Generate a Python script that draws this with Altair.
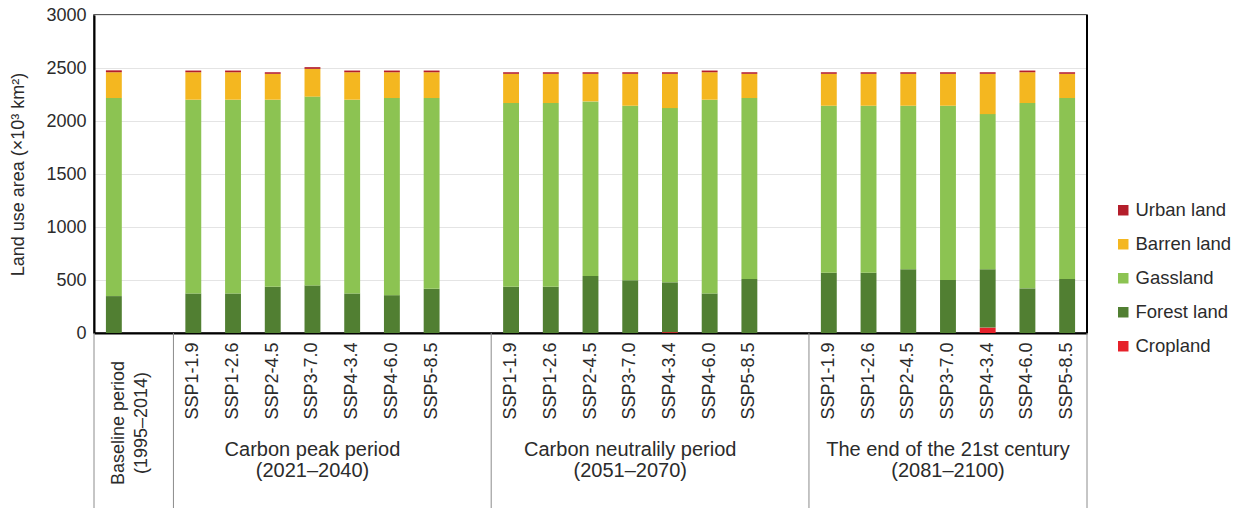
import altair as alt
import pandas as pd

# ---------------- data ----------------
land_types = ["Cropland", "Forest land", "Gassland", "Barren land", "Urban land"]
legend_order = ["Urban land", "Barren land", "Gassland", "Forest land", "Cropland"]
legend_colors = ["#B41E2B", "#F4B720", "#8CC352", "#517F32", "#E6212A"]

scenarios = ["SSP1-1.9", "SSP1-2.6", "SSP2-4.5", "SSP3-7.0", "SSP4-3.4", "SSP4-6.0", "SSP5-8.5"]
baseline_label = "Baseline period\n(1995–2014)"
period_labels = [
    "Carbon peak period\n(2021–2040)",
    "Carbon neutralily period\n(2051–2070)",
    "The end of the 21st century\n(2081–2100)",
]

# values (x10^3 km2): baseline, then 7 scenarios for each of the 3 periods
cropland = [0,
            0, 0, 0, 0, 0, 0, 0,
            0, 0, 0, 0, 8, 0, 0,
            0, 0, 0, 0, 51, 0, 0]
forest = [348,
          373, 373, 436, 449, 373, 357, 417,
          436, 436, 538, 497, 470, 373, 509,
          569, 569, 601, 500, 550, 421, 509]
grass = [1869,
         1828, 1828, 1765, 1781, 1828, 1860, 1800,
         1734, 1734, 1647, 1647, 1644, 1828, 1708,
         1575, 1575, 1543, 1644, 1464, 1749, 1708]
barren = [243,
          259, 259, 244, 262, 259, 243, 243,
          275, 275, 260, 301, 323, 259, 228,
          301, 301, 301, 301, 380, 290, 228]
urban = [18,
         16, 16, 15, 16, 16, 16, 16,
         15, 15, 15, 15, 15, 16, 15,
         15, 15, 15, 15, 15, 16, 15]

# ---------------- build tables ----------------
bar_keys = ["Baseline|"]
slots = ["Baseline|", "gap0|"]
for p in range(len(period_labels)):
    keys = [f"P{p + 1}|{s}" for s in scenarios]
    bar_keys += keys
    slots += keys
    if p < len(period_labels) - 1:
        slots.append(f"gap{p + 1}|")

series = [cropland, forest, grass, barren, urban]
rows = []
for li, (land, vals) in enumerate(zip(land_types, series)):
    for key, v in zip(bar_keys, vals):
        rows.append({"slot": key, "land": land, "value": v, "stack_order": li})
df = pd.DataFrame(rows)

n_slots = len(slots)
group_starts = [slots.index(f"P{p + 1}|{scenarios[0]}") for p in range(len(period_labels))]
boundaries = [0] + group_starts + [n_slots]
sep_df = pd.DataFrame({"pos": boundaries})
grp_df = pd.DataFrame({
    "pos": [slots.index(f"P{p + 1}|{scenarios[3]}") + 0.5 for p in range(len(period_labels))],
    "label": period_labels,
})
base_df = pd.DataFrame({"pos": [group_starts[0] / 2], "label": [baseline_label]})
edge_df = pd.DataFrame({"pos": [n_slots]})

FONT = "Liberation Sans"
TXT = "#2b2b2b"
W, H = 993, 318

xq = alt.Scale(domain=[0, n_slots], nice=False, zero=False)

bars = alt.Chart(df).mark_bar().encode(
    x=alt.X(
        "slot:N",
        scale=alt.Scale(domain=slots, paddingInner=0.6, paddingOuter=0.3),
        sort=None,
        axis=alt.Axis(
            title=None,
            labelExpr="split(datum.value, '|')[1]",
            labelAngle=270,
            labelFontSize=18,
            labelFont=FONT,
            labelColor=TXT,
            labelPadding=9,
            ticks=False,
            domainColor="black",
            domainWidth=2,
            grid=False,
        ),
    ),
    y=alt.Y(
        "value:Q",
        stack="zero",
        scale=alt.Scale(domain=[0, 3000], nice=False),
        axis=alt.Axis(
            title="Land use area (×10³ km²)",
            values=[0, 500, 1000, 1500, 2000, 2500, 3000],
            format="d",
            labelFontSize=18,
            labelFont=FONT,
            labelColor=TXT,
            labelPadding=8,
            ticks=False,
            domainColor="black",
            domainWidth=2,
            grid=True,
            gridColor="#e4e4e4",
            gridWidth=1,
            titleFontSize=18,
            titleFont=FONT,
            titleColor=TXT,
            titleFontWeight="normal",
            titleAngle=270,
            titleX=-76,
            titleY=H / 2,
            titleAlign="center",
            titleBaseline="middle",
        ),
    ),
    color=alt.Color(
        "land:N",
        scale=alt.Scale(domain=legend_order, range=legend_colors),
        legend=alt.Legend(
            title=None,
            orient="none",
            legendX=1020,
            legendY=186,
            symbolType="square",
            symbolSize=110,
            symbolStrokeWidth=0,
            labelFontSize=18.5,
            labelFont=FONT,
            labelColor=TXT,
            labelOffset=3,
            rowPadding=15,
            padding=0,
        ),
    ),
    order=alt.Order("stack_order:Q", sort="ascending"),
)

seps = alt.Chart(sep_df).mark_rule(color="#8c8c8c", strokeWidth=1).encode(
    x=alt.X("pos:Q", scale=xq, axis=None),
    y=alt.value(H),
    y2=alt.value(H + 175),
)

right_edge = alt.Chart(edge_df).mark_rule(color="black", strokeWidth=2).encode(
    x=alt.X("pos:Q", scale=xq, axis=None),
    y=alt.value(0),
    y2=alt.value(H),
)

groups = alt.Chart(grp_df).mark_text(
    fontSize=20, font=FONT, color=TXT, align="center", baseline="middle",
    lineBreak="\n", lineHeight=21,
).encode(
    x=alt.X("pos:Q", scale=xq, axis=None),
    y=alt.value(H + 117),
    text="label:N",
)

base_txt = alt.Chart(base_df).mark_text(
    fontSize=18, font=FONT, color=TXT, align="center", baseline="middle",
    lineBreak="\n", lineHeight=23, angle=270, dy=-15,
).encode(
    x=alt.X("pos:Q", scale=xq, axis=None),
    y=alt.value(H + 90),
    text="label:N",
)

chart = alt.layer(bars, seps, right_edge, groups, base_txt).resolve_scale(
    x="independent"
).properties(
    width=W,
    height=H,
    background="white",
    autosize=alt.AutoSizeParams(type="none"),
    padding={"left": 94, "top": 15, "right": 1238 - 94 - W, "bottom": 508 - 15 - H},
).configure_view(
    stroke="#222222", strokeWidth=1.5
)

chart.save("out.html", embed_options={"renderer": "svg", "actions": False})
